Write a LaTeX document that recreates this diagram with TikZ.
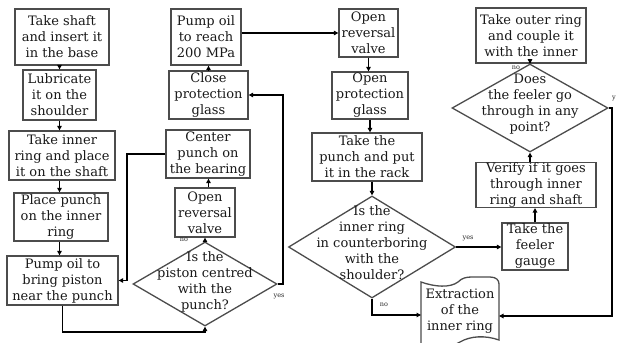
\documentclass[tikz,border=0pt]{standalone}
\usepackage{fontspec}
\setmainfont{DejaVu Serif}
\usetikzlibrary{shapes.geometric,arrows.meta}
\begin{document}
\begin{tikzpicture}[x=1pt,y=-1pt,
 box/.style={draw=black!70, line width=1.3pt, fill=white, align=center, inner sep=0pt, font=\fontsize{13}{16}\selectfont, text=black!90},
 txt/.style={align=center, inner sep=0pt, font=\fontsize{13}{16}\selectfont, text=black!90},
 dia/.style={diamond, draw=black!70, line width=1.3pt, fill=white, inner sep=0pt},
 arr/.style={line width=1.6pt, -{Triangle[length=4.5pt,width=4.5pt]}},
 lbl/.style={font=\fontsize{6.5}{7}\selectfont, inner sep=0pt, text=black!85}]

\useasboundingbox (0,0) rectangle (617,342);
\fill[white] (0,0) rectangle (617,342);

% column 1
\node[box, minimum width=94pt, minimum height=56pt] (s1) at (62,37) {Take shaft\\and insert it\\in the base};
\node[box, minimum width=73pt, minimum height=50pt] (s2) at (59.5,95) {Lubricate\\it on the\\shoulder};
\node[box, minimum width=106pt, minimum height=49pt] (s3) at (62,155.5) {Take inner\\ring and place\\it on the shaft};
\node[box, minimum width=94pt, minimum height=48pt] (s4) at (61,217) {Place punch\\on the inner\\ring};
\node[box, minimum width=111pt, minimum height=49pt] (s5) at (62.5,280.5) {Pump oil to\\bring piston\\near the punch};

% column 2
\node[box, minimum width=70pt, minimum height=56pt] (s6) at (206,37) {Pump oil\\to reach\\200 MPa};
\node[box, minimum width=79pt, minimum height=48pt] (s7) at (208.5,95) {Close\\protection\\glass};
\node[box, minimum width=84pt, minimum height=48pt] (s8) at (208,154) {Center\\punch on\\the bearing};
\node[box, minimum width=60pt, minimum height=49pt] (s9) at (205,212.5) {Open\\reversal\\valve};
\node[dia, minimum width=144pt, minimum height=84pt] (d1) at (205,284) {};
\node[txt] (t1) at (205,282) {Is the\\piston centred\\with the\\punch?};

% column 3
\node[box, minimum width=59pt, minimum height=48pt] (s10) at (368.5,33) {Open\\reversal\\valve};
\node[box, minimum width=76pt, minimum height=47pt] (s11) at (370,95.5) {Open\\protection\\glass};
\node[box, minimum width=110pt, minimum height=48pt] (s12) at (367,157) {Take the\\punch and put\\it in the rack};
\node[dia, minimum width=167pt, minimum height=102pt] (d2) at (372,247) {};
\node[txt] (t2) at (372,243) {Is the\\inner ring\\in counterboring\\with the\\shoulder?};

% extraction document
\draw[draw=black!70, line width=1.3pt, fill=white] (421,350) -- (421,282)
  .. controls (435,287) and (450,288) .. (458,282)
  .. controls (462,278) and (466,277) .. (472,277) -- (490,277)
  .. controls (496,277) and (499,280) .. (499,284) -- (499,340)
  .. controls (485,335) and (470,336) .. (460,342)
  .. controls (450,348) and (435,348) .. (421,345);
\node[txt] (ex) at (460,311) {Extraction\\of the\\inner ring};
\coordinate (exl) at (421,315);
\coordinate (exr) at (499,316);

% column 4
\node[box, minimum width=110pt, minimum height=55pt] (s13) at (531,35.5) {Take outer ring\\and couple it\\with the inner};
\node[dia, minimum width=156pt, minimum height=88pt] (d3) at (530,108) {};
\node[txt] (t3) at (530,104) {Does\\the feeler go\\through in any\\point?};
\node[box, minimum width=120pt, minimum height=44pt] (s14) at (536,185) {Verify if it goes\\through inner\\ring and shaft};
\node[box, minimum width=66pt, minimum height=47pt] (s15) at (535,246.5) {Take the\\feeler\\gauge};

% helper coordinates
\coordinate (c1) at (205,332);
\coordinate (c2) at (283,284);
\coordinate (c3) at (127,154);
\coordinate (c5) at (612,108);

% connectors
\draw[arr] (s2.north |- s1.south) -- (s2.north);
\draw[arr] (s2.south) -- (s2.south |- s3.north);
\draw[arr] (s2.south |- s3.south) -- (s2.south |- s4.north);
\draw[arr] (s2.south |- s4.south) -- (s2.south |- s5.north);
\draw[arr] (s5.south) |- (c1) -- (d1.south);
\draw[arr] (d1.east) -- (c2) |- (s7.east);
\draw[arr] (s8.west) -- (c3) |- (s5.east);
\draw[arr] (d1.north) -- (s9.south);
\draw[arr] (s9.north -| s7.south) -- (s7.south |- s8.south);
\draw[arr] (s7.north) -- (s7.north |- s6.south);
\draw[arr] (s6.east |- s10.west) -- (s10.west);
\draw[arr] (s10.south) -- (s10.south |- s11.north);
\draw[arr] (s11.south) -- (s11.south |- s12.north);
\draw[arr] (d2.north |- s12.south) -- (d2.north);
\draw[arr] (d2.south) |- (exl);
\draw[arr] (d2.east) -- (d2.east -| s15.west);
\draw[arr] (s15.north) -- (s15.north |- s14.south);
\draw[arr] (d3.south |- s14.north) -- (d3.south);
\draw[arr] (d3.north) -- (d3.north |- s13.south);
\draw[arr] (d3.east) -- (c5) |- (exr);

% labels
\node[lbl] at (184,240) {no};
\node[lbl] at (279,296) {yes};
\node[lbl] at (384,305) {no};
\node[lbl] at (468,238) {yes};
\node[lbl] at (516,68) {no};
\node[lbl] at (614,99) {y};
\end{tikzpicture}
\end{document}
